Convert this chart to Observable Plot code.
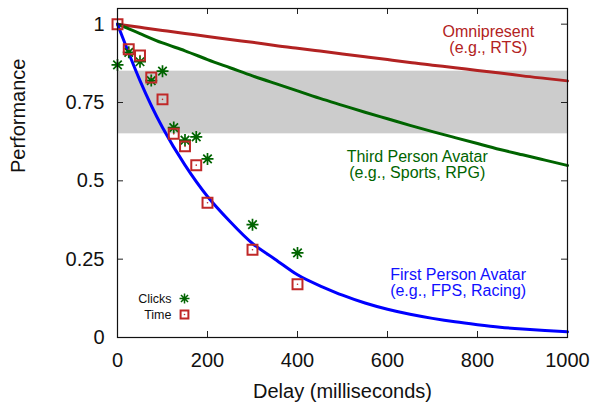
<!DOCTYPE html>
<html>
<head>
<meta charset="utf-8">
<script src="https://cdn.jsdelivr.net/npm/d3@7"></script>
<script src="https://cdn.jsdelivr.net/npm/@observablehq/plot@0.6"></script>
<style>
  html, body { margin: 0; padding: 0; background: #fff; }
</style>
</head>
<body>
<div id="chart"></div>
<script>
// ---- data ----
const delays      = [0, 25, 50, 75, 100, 125, 150, 175, 200, 300, 400];
const clicks      = [0.87, 0.91, 0.88, 0.82, 0.85, 0.67, 0.63, 0.64, 0.57, 0.36, 0.27];
const timeVals    = [1.00, 0.92, 0.90, 0.83, 0.76, 0.65, 0.61, 0.55, 0.43, 0.28, 0.17];

const curveX      = [0, 50, 100, 150, 200, 250, 300, 350, 400, 450, 500, 550, 600, 650, 700, 750, 800, 850, 900, 950, 1000];
const firstPerson = [1.00, 0.82, 0.67, 0.55, 0.45, 0.37, 0.30, 0.25, 0.20, 0.165, 0.135, 0.11, 0.09, 0.074, 0.061, 0.05, 0.041, 0.033, 0.027, 0.022, 0.018];
const thirdPerson = [1.00, 0.97, 0.94, 0.915, 0.887, 0.861, 0.835, 0.811, 0.787, 0.763, 0.741, 0.719, 0.698, 0.677, 0.657, 0.638, 0.619, 0.600, 0.583, 0.566, 0.549];
const omnipresent = [1.00, 0.99, 0.98, 0.97, 0.961, 0.951, 0.942, 0.932, 0.923, 0.914, 0.905, 0.896, 0.887, 0.878, 0.869, 0.861, 0.852, 0.844, 0.835, 0.827, 0.819];

const bandLow = 0.65, bandHigh = 0.85;

const xTicks = [0, 200, 400, 600, 800, 1000];
const yTicks = [0, 0.25, 0.5, 0.75, 1];
const xDomain = [0, 1000];
const yDomain = [0, 1.05];

const annotations = [
  {text: "Omnipresent\n(e.g., RTS)", x: 824, y: 0.95, color: "#b22222"},
  {text: "Third Person Avatar\n(e.g., Sports, RPG)", x: 666, y: 0.551, color: "#006400"},
  {text: "First Person Avatar\n(e.g., FPS, Racing)", x: 757, y: 0.174, color: "#1010ff"}
];

// ---- build tables ----
const points = delays.map((d, i) => ({delay: d, clicks: clicks[i], time: timeVals[i]}));
const curves = curveX.map((d, i) => ({delay: d, fp: firstPerson[i], tp: thirdPerson[i], om: omnipresent[i]}));

const RED = "#b22222", GREEN = "#006400", BLUE = "#0000ff", SQRED = "#c02828";

const asterisk = {
  draw(ctx, size) {
    const r = Math.sqrt(size / Math.PI);
    const d = r * Math.SQRT1_2;
    ctx.moveTo(-r, 0); ctx.lineTo(r, 0);
    ctx.moveTo(0, -r); ctx.lineTo(0, r);
    ctx.moveTo(-d, -d); ctx.lineTo(d, d);
    ctx.moveTo(-d, d); ctx.lineTo(d, -d);
  }
};

const W = 593, H = 403, mL = 117, mR = 26, mT = 8, mB = 66;
const plotW = W - mL - mR, plotH = H - mT - mB;
const tickLen = 6;

const chart = Plot.plot({
  width: W, height: H,
  marginLeft: mL, marginRight: mR, marginTop: mT, marginBottom: mB,
  x: {domain: xDomain},
  y: {domain: yDomain},
  style: {fontFamily: "'Liberation Sans', Arial, Helvetica, sans-serif", fontSize: "20px", background: "#fff", color: "#111"},
  marks: [
    Plot.rect([{lo: bandLow, hi: bandHigh}], {x1: () => xDomain[0], x2: () => xDomain[1], y1: "lo", y2: "hi", fill: "#cccccc"}),
    Plot.line(curves, {x: "delay", y: "om", stroke: RED, strokeWidth: 3, curve: "natural"}),
    Plot.line(curves, {x: "delay", y: "tp", stroke: GREEN, strokeWidth: 3, curve: "natural"}),
    Plot.line(curves, {x: "delay", y: "fp", stroke: BLUE, strokeWidth: 3, curve: "natural"}),
    Plot.dot(points, {x: "delay", y: "clicks", symbol: asterisk, r: 6, stroke: GREEN, strokeWidth: 1.7}),
    Plot.dot(points, {x: "delay", y: "time", symbol: "square", r: 5.6, stroke: SQRED, strokeWidth: 2, fill: "none"}),
    Plot.dot(points, {x: "delay", y: "time", r: 0.8, fill: SQRED, stroke: null}),
    // annotations
    ...annotations.map(a => Plot.text([a], {x: "x", y: "y", text: "text", fill: a.color, fontSize: 16, lineHeight: 1, lineAnchor: "middle", textAnchor: "middle"})),
    // inward ticks
    Plot.tickX(xTicks, {x: d => d, insetTop: plotH - tickLen, stroke: "#222"}),
    Plot.tickX(xTicks, {x: d => d, insetBottom: plotH - tickLen, stroke: "#222"}),
    Plot.tickY(yTicks, {y: d => d, insetRight: plotW - tickLen, stroke: "#222"}),
    Plot.tickY(yTicks, {y: d => d, insetLeft: plotW - tickLen, stroke: "#222"}),
    Plot.frame({stroke: "#111", strokeWidth: 1.2}),
    Plot.axisX({ticks: xTicks, tickSize: 0, tickPadding: 15, tickFormat: d => String(d), label: null}),
    Plot.axisY({ticks: yTicks, tickSize: 0, tickPadding: 13, tickFormat: d => String(d), label: null}),
    // axis titles
    Plot.text(["Delay (milliseconds)"], {frameAnchor: "bottom", dy: 54, lineAnchor: "middle", fill: "#111"}),
    Plot.text(["Performance"], {frameAnchor: "left", dx: -99, rotate: -90, lineAnchor: "middle", fill: "#111"}),
    // legend
    Plot.text(["Clicks"], {frameAnchor: "bottom-left", dx: 54, dy: -39, textAnchor: "end", lineAnchor: "middle", fontSize: 12.5, fill: "#111"}),
    Plot.text(["Time"], {frameAnchor: "bottom-left", dx: 54, dy: -23, textAnchor: "end", lineAnchor: "middle", fontSize: 12.5, fill: "#111"}),
    Plot.dot([0], {frameAnchor: "bottom-left", dx: 67, dy: -39, symbol: asterisk, r: 5, stroke: GREEN, strokeWidth: 1.5}),
    Plot.dot([0], {frameAnchor: "bottom-left", dx: 67, dy: -23, symbol: "square", r: 4.4, stroke: SQRED, strokeWidth: 2, fill: "none"}),
    Plot.dot([0], {frameAnchor: "bottom-left", dx: 67, dy: -23, r: 0.8, fill: SQRED, stroke: null})
  ]
});
document.getElementById("chart").appendChild(chart);
</script>
</body>
</html>
